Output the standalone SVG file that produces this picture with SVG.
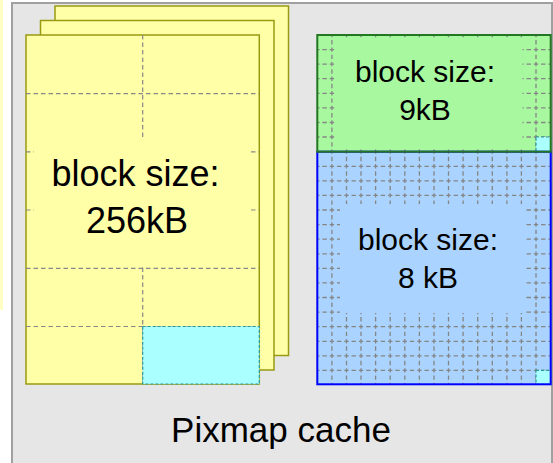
<svg xmlns="http://www.w3.org/2000/svg" width="553" height="463" viewBox="0 0 553 463">
  <style>
    text { font-family: "Liberation Sans", Arial, sans-serif; fill: #000; text-anchor: middle; }
    .page { fill: #ffffa8; stroke: #9a9a10; stroke-width: 1.5; }
    .grid { stroke: #888; stroke-width: 1.2; stroke-dasharray: 4.5 3; fill: none; }
    .fine { stroke: #858585; stroke-width: 1.3; stroke-dasharray: 4.4 2.89; stroke-dashoffset: 2.2; fill: none; }
    .hit { fill: #aaffff; stroke: #2a9a9a; stroke-width: 1.2; stroke-dasharray: 3 2; }
  </style>

  <!-- neighbouring panel, cut off at the left edge -->
  <rect x="-10" y="-10" width="13" height="320" fill="#ffffc4"/>

  <!-- cache container -->
  <g id="pixmap-cache">
    <rect x="12" y="3" width="540" height="480" fill="#e6e6e6" stroke="#a0a0a0" stroke-width="2"/>
    <text x="281" y="442" font-size="35">Pixmap cache</text>
  </g>

  <!-- stack of 256kB pages -->
  <g id="page-back">
    <rect class="page" x="55" y="6" width="233.5" height="349.5"/>
  </g>
  <g id="page-middle">
    <rect class="page" x="40.5" y="20.5" width="233.5" height="349.5"/>
  </g>
  <g id="page-front">
    <rect class="page" x="26" y="35" width="233.3" height="349"/>
    <g class="grid">
      <line x1="142.7" y1="35" x2="142.7" y2="384"/>
      <line x1="26" y1="93.7" x2="259.3" y2="93.7"/>
      <line x1="26" y1="151.8" x2="259.3" y2="151.8"/>
      <line x1="26" y1="210" x2="259.3" y2="210"/>
      <line x1="26" y1="268.3" x2="259.3" y2="268.3"/>
      <line x1="26" y1="326.5" x2="259.3" y2="326.5"/>
    </g>
    <rect class="hit" x="142.7" y="326.5" width="116.6" height="57.5"/>
    <rect x="34" y="137" width="217" height="130" fill="#ffffa8"/>
    <text x="135.5" y="186" font-size="36">block size:</text>
    <text x="137" y="233.3" font-size="36">256kB</text>
  </g>

  <!-- 9kB region -->
  <g id="region-9kB">
    <rect x="317.3" y="35" width="233.4" height="116.7" fill="#a8f8a0"/>
  </g>
  <!-- 8kB region -->
  <g id="region-8kB">
    <rect x="317.3" y="151.7" width="233.4" height="232.6" fill="#aad4ff"/>
  </g>

  <!-- fine block grid shared by both regions -->
  <g id="fine-grid" class="fine">
    <path d="M331.9 35V384.3M346.5 35V384.3M361 35V384.3M375.6 35V384.3M390.2 35V384.3M404.8 35V384.3M419.4 35V384.3M434 35V384.3M448.5 35V384.3M463.1 35V384.3M477.7 35V384.3M492.3 35V384.3M506.9 35V384.3M521.4 35V384.3M536 35V384.3"/>
    <path d="M317.3 49.6H550.7M317.3 64.2H550.7M317.3 78.7H550.7M317.3 93.3H550.7M317.3 107.9H550.7M317.3 122.5H550.7M317.3 137H550.7M317.3 166.3H550.7M317.3 180.9H550.7M317.3 195.4H550.7M317.3 210H550.7M317.3 224.6H550.7M317.3 239.2H550.7M317.3 253.8H550.7M317.3 268.3H550.7M317.3 282.9H550.7M317.3 297.5H550.7M317.3 312.1H550.7M317.3 326.7H550.7M317.3 341.3H550.7M317.3 355.8H550.7M317.3 370.4H550.7"/>
  </g>

  <g id="label-9kB">
    <rect x="337" y="39" width="185.5" height="108" fill="#a8f8a0"/>
    <rect class="hit" x="536" y="137" width="14.7" height="14.7"/>
    <text x="425" y="81.7" font-size="30">block size:</text>
    <text x="425" y="120" font-size="30">9kB</text>
  </g>
  <g id="label-8kB">
    <rect x="340" y="204" width="186" height="109" fill="#aad4ff"/>
    <rect class="hit" x="536" y="370.4" width="14.7" height="13.9"/>
    <text x="428" y="250" font-size="30">block size:</text>
    <text x="428" y="288.3" font-size="30">8 kB</text>
  </g>

  <!-- region outlines -->
  <g id="outlines" fill="none" stroke-width="2">
    <rect x="317.3" y="151.7" width="233.4" height="232.6" stroke="#0000ff"/>
    <rect x="317.3" y="35" width="233.4" height="116.7" stroke="#227722"/>
  </g>
</svg>
